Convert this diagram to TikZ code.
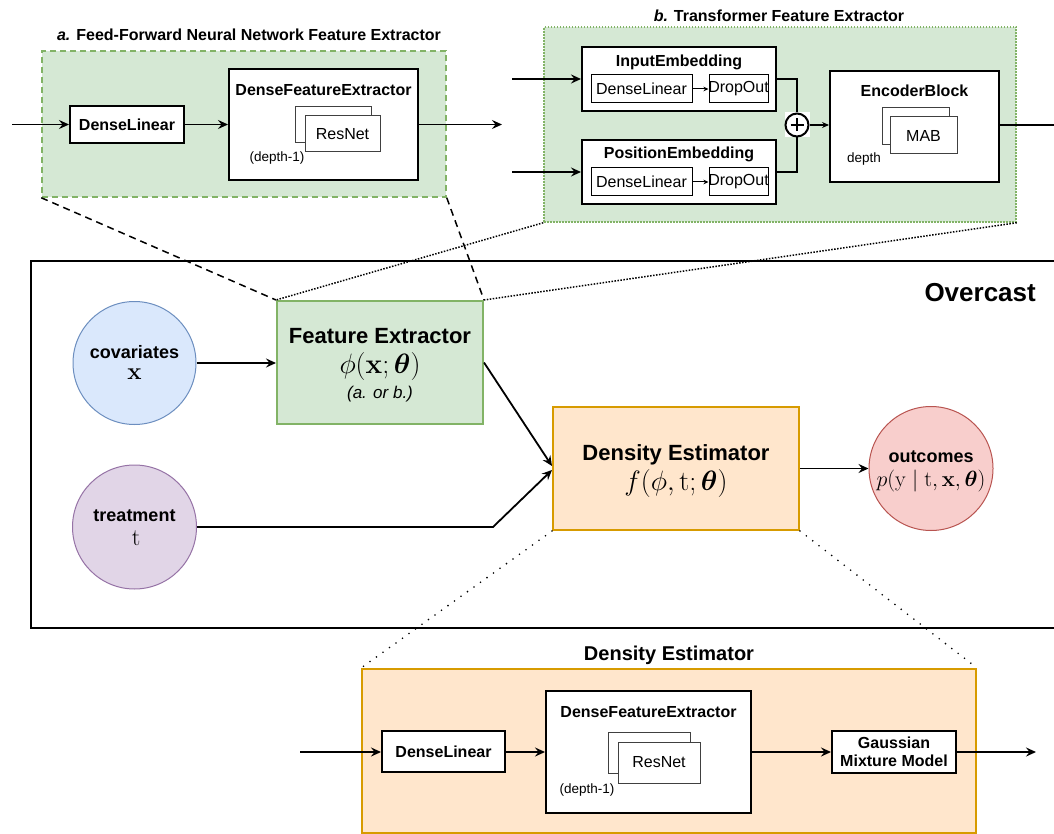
\RequirePackage{fix-cm}
\documentclass[tikz,border=0pt]{standalone}
\usepackage{amsmath,amssymb,bm}
\usepackage[no-math]{fontspec}
\setmainfont{Liberation Sans}
\usetikzlibrary{arrows.meta,calc}

\definecolor{gfill}{HTML}{D5E8D4}
\definecolor{gline}{HTML}{82B366}
\definecolor{bfill}{HTML}{DAE8FC}
\definecolor{bline}{HTML}{6C8EBF}
\definecolor{pfill}{HTML}{E1D5E7}
\definecolor{pline}{HTML}{9673A6}
\definecolor{ofill}{HTML}{FFE6CC}
\definecolor{oline}{HTML}{D79B00}
\definecolor{rfill}{HTML}{F8CECC}
\definecolor{rline}{HTML}{B85450}

\newcommand\szS{\fontsize{13.5}{16}\selectfont}
\newcommand\szM{\fontsize{16}{19}\selectfont}
\newcommand\szL{\fontsize{18}{21}\selectfont}
\newcommand\szT{\fontsize{20}{24}\selectfont}
\newcommand\szH{\fontsize{22}{26}\selectfont}
\newcommand\szX{\fontsize{26}{30}\selectfont}
\newcommand\szMath{\fontsize{28}{32}\selectfont}
\newcommand\szVar{\fontsize{24}{28}\selectfont}
\newcommand\szOut{\fontsize{22}{26}\selectfont}

\begin{document}
\begin{tikzpicture}[x=1pt,y=-1pt,
  blk/.style={draw, line width=2pt, fill=white, inner sep=0pt},
  subbox/.style={draw, line width=1pt, fill=white, inner sep=0pt, font=\szM},
  narrowbox/.style={draw, line width=1pt, fill=white, inner sep=0pt,
                    label={[font=\szM, inner sep=0pt]center:#1}},
  stackbox/.style={draw=black!75, line width=1pt, fill=white, inner sep=0pt, font=\szM},
  lbl/.style={inner sep=0pt, font=\szM\bfseries},
  arr/.style={line width=1.8pt, -{Stealth[length=10pt,width=9pt,inset=3.5pt]}},
  thinarr/.style={line width=1pt, -{Stealth[length=5pt,width=4.5pt,inset=1.5pt]}},
  bubble/.style={circle, inner sep=0pt, line width=1pt, minimum size=123pt},
  zoomdash/.style={line width=1.5pt, dash pattern=on 7pt off 5pt},
  zoomdot/.style={line width=1.5pt, dash pattern=on 1.5pt off 1.5pt},
  zoomsparse/.style={line width=1.8pt, line cap=round, dash pattern=on 0pt off 8pt},
]
\useasboundingbox (0,0) rectangle (1054,834);
\clip (0,0) rectangle (1054,834);

% ---------- a. feed-forward feature extractor ----------
\node[draw=gline, fill=gfill, line width=1.5pt, dash pattern=on 6pt off 4pt,
      minimum width=404pt, minimum height=146pt] (frameA) at (244,124) {};
\node[lbl] (titleA) at (249,35) {\itshape a.\upshape{} Feed-Forward Neural Network Feature Extractor};
\node[blk, font=\szM\bfseries, minimum width=114pt, minimum height=37pt] (dlA) at (127,124.5) {DenseLinear};
\node[blk, minimum width=189pt, minimum height=111pt] (dfeA) at (323.5,124.5) {};
\node[lbl] (dfeAt) at (323.5,90) {DenseFeatureExtractor};
\node[stackbox, minimum width=76pt, minimum height=36pt] (rnAb) at (333,125) {};
\node[stackbox, minimum width=75pt, minimum height=36pt] (rnA) at (342.5,134) {ResNet};
\node[font=\szS, inner sep=0pt] (depA) at (277,158) {(depth-1)};
\coordinate (inA) at (12,124.5);
\coordinate (outA) at (502,124.5);
\draw[arr] (inA) -- (dlA);
\draw[arr] (dlA) -- (dfeA);
\draw[arr] (dfeA) -- (outA);

% ---------- b. transformer feature extractor ----------
\node[draw=gline, fill=gfill, zoomdot, minimum width=472pt, minimum height=195pt] (frameB) at (780,124.5) {};
\node[lbl] (titleB) at (779,16) {\itshape b.\upshape{} Transformer Feature Extractor};

\node[blk, minimum width=194pt, minimum height=64pt] (ieB) at (679,79) {};
\node[lbl] (ieBt) at (679,62) {InputEmbedding};
\node[subbox, minimum width=101pt, minimum height=28pt] (ieDL) at (641.5,89) {DenseLinear};
\node[narrowbox=DropOut, minimum width=59pt, minimum height=28pt] (ieDO) at (738.5,89) {};
\draw[thinarr] (ieDL) -- (ieDO);

\node[blk, minimum width=194pt, minimum height=64pt] (peB) at (679,172) {};
\node[lbl] (peBt) at (679,154) {PositionEmbedding};
\node[subbox, minimum width=101pt, minimum height=28pt] (peDL) at (641.5,182) {DenseLinear};
\node[narrowbox=DropOut, minimum width=59pt, minimum height=28pt] (peDO) at (738.5,182) {};
\draw[thinarr] (peDL) -- (peDO);

\coordinate (inB1) at (512,79);
\coordinate (inB2) at (512,172);
\draw[arr] (inB1) -- (ieB);
\draw[arr] (inB2) -- (peB);

\node[fill=white, inner sep=0pt, minimum size=25pt] (plusbg) at (797,125) {};
\node[circle, draw, fill=white, line width=2pt, minimum size=23pt, inner sep=0pt] (plus) at (797,125) {};
\draw[line width=2pt] ($(plus.center)+(-6.5,0)$) -- ($(plus.center)+(6.5,0)$);
\draw[line width=2pt] ($(plus.center)+(0,-6.5)$) -- ($(plus.center)+(0,6.5)$);
\draw[line width=1.8pt] (ieB.east) -| (plus.north);
\draw[line width=1.8pt] (peB.east) -| (plus.south);

\node[blk, minimum width=169pt, minimum height=111pt] (ebB) at (914.5,126.5) {};
\node[lbl] (ebBt) at (914.5,91) {EncoderBlock};
\node[stackbox, minimum width=67pt, minimum height=37pt] (mabb) at (915.5,126.5) {};
\node[stackbox, minimum width=67pt, minimum height=37pt] (mab) at (923.5,135.5) {MAB};
\node[font=\szS, inner sep=0pt] (depB) at (864,159) {depth};
\draw[line width=1.8pt, -{Stealth[length=7pt,width=6pt,inset=2.5pt]}] (plus.east) -- (plus.east -| ebB.west);
\coordinate (outB) at (1058,125);
\draw[line width=1.8pt] (ebB.east |- outB) -- (outB);

% ---------- Overcast ----------
\node[draw, line width=2pt, minimum width=1029pt, minimum height=367pt, inner sep=0pt] (overcast) at (545.5,444.5) {};
\node[font=\szX\bfseries, inner sep=0pt, anchor=east] (overcastt) at (1036,293) {Overcast};

\node[bubble, draw=bline, fill=bfill] (cov) at (134.5,363) {};
\node[font=\szL\bfseries, inner sep=0pt] (covt) at (134.5,352) {covariates};
\node[font=\szVar, inner sep=0pt] (covm) at (134.5,374) {$\mathbf{x}$};

\node[bubble, draw=pline, fill=pfill, minimum size=124pt] (trt) at (134.5,527) {};
\node[font=\szL\bfseries, inner sep=0pt] (trtt) at (134.5,516) {treatment};
\node[font=\szVar, inner sep=0pt] (trtm) at (136,538) {$\mathrm{t}$};

\node[draw=gline, fill=gfill, line width=2pt, minimum width=206pt, minimum height=123pt] (fe) at (380,362.5) {};
\node[font=\szH\bfseries, inner sep=0pt] (fet) at (380,336) {Feature Extractor};
\node[font=\szMath, inner sep=0pt] (fem) at (380,366) {$\phi(\mathbf{x};\boldsymbol{\theta})$};
\node[font=\fontsize{17}{20}\selectfont\itshape, inner sep=0pt] (feo) at (380,394) {(a. or b.)};

\node[draw=oline, fill=ofill, line width=2pt, minimum width=246pt, minimum height=123pt] (de) at (676,468.5) {};
\node[font=\szH\bfseries, inner sep=0pt] (det) at (676,455) {Density Estimator};
\node[font=\szMath, inner sep=0pt] (dem) at (676,483) {$f(\phi,\mathrm{t};\boldsymbol{\theta})$};

\node[bubble, draw=rline, fill=rfill, minimum size=124pt] (outc) at (931,468.5) {};
\node[font=\szL\bfseries, inner sep=0pt] (outct) at (931,457) {outcomes};
\node[font=\szOut, inner sep=0pt] (outcm) at (931,481) {$p(\mathrm{y}\mid\mathrm{t},\mathbf{x},\boldsymbol{\theta})$};

\coordinate (bend) at (493,527);
\draw[arr] (cov.east) -- (cov.east -| fe.west);
\draw[arr] (fe.east) -- ($(de.west)+(0,-2.5)$);
\draw[arr] (trt.east) -- (bend) -- ($(de.west)+(0,1.5)$);
\draw[arr] (de.east) -- (outc.west);

% zoom guides to the two extractor variants
\draw[zoomdash] (frameA.south west) -- (fe.north west);
\draw[zoomdash] (frameA.south east) -- (fe.north east);
\draw[zoomdot] (frameB.south west) -- (fe.north west);
\draw[zoomdot] (frameB.south east) -- (fe.north east);

% ---------- density estimator detail ----------
\node[draw=oline, fill=ofill, line width=2pt, minimum width=614pt, minimum height=164pt] (frameD) at (669,751) {};
\node[font=\szT\bfseries, inner sep=0pt] (titleD) at (669,655) {Density Estimator};
\node[blk, font=\szM\bfseries, minimum width=123pt, minimum height=41pt] (dlD) at (443.5,751.5) {DenseLinear};
\node[blk, minimum width=205pt, minimum height=122pt] (dfeD) at (648.5,752) {};
\node[lbl] (dfeDt) at (648.5,712) {DenseFeatureExtractor};
\node[stackbox, minimum width=82pt, minimum height=41pt] (rnDb) at (649,752.5) {};
\node[stackbox, minimum width=82pt, minimum height=41pt] (rnD) at (659,762.5) {ResNet};
\node[font=\szS, inner sep=0pt] (depD) at (587,790) {(depth-1)};
\node[blk, font=\szM\bfseries, align=center, minimum width=124pt, minimum height=42pt] (gmm) at (894,752) {Gaussian\\[-1pt]Mixture Model};
\coordinate (inD) at (300,752);
\coordinate (outD) at (1036,752);
\draw[arr] (inD) -- (dlD.west |- inD);
\draw[arr] (dlD.east |- inD) -- (dfeD.west |- inD);
\draw[arr] (dfeD.east |- inD) -- (gmm.west |- inD);
\draw[arr] (gmm.east |- inD) -- (outD);

\draw[zoomsparse] (de.south west) -- (frameD.north west);
\draw[zoomsparse] (de.south east) -- (frameD.north east);
\end{tikzpicture}
\end{document}
